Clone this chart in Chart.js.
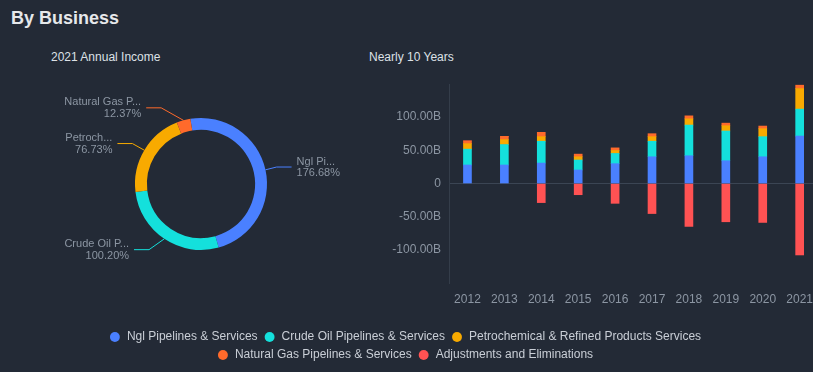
<!DOCTYPE html>
<html>
<head>
<meta charset="utf-8">
<script src="https://cdn.jsdelivr.net/npm/chart.js@4.4.1/dist/chart.umd.min.js"></script>
<style>
  body { margin: 0; background: #232a36; font-family: "Liberation Sans", Arial, sans-serif; }
  #wrap { position: relative; width: 813px; height: 372px; overflow: hidden; }
  .title { position: absolute; left: 11px; top: 8px; line-height: 20px; font-size: 18px; font-weight: bold; color: #e6e8eb; }
  .sub { position: absolute; top: 50px; line-height: 14px; font-size: 12px; color: #dde1e6; }
  canvas { position: absolute; }
</style>
</head>
<body>
<div id="wrap">
  <div class="title">By Business</div>
  <div class="sub" style="left:51px">2021 Annual Income</div>
  <div class="sub" style="left:369px">Nearly 10 Years</div>
  <canvas id="barChart" width="822" height="372" style="left:0;top:0"></canvas>
  <canvas id="pieChart" width="400" height="240" style="left:1px;top:64px"></canvas>
  <canvas id="legendChart" width="620" height="120" style="left:95px;top:325px"></canvas>
</div>
<script>
// data (billions)
const years = ['2012', '2013', '2014', '2015', '2016', '2017', '2018', '2019', '2020', '2021'];
const seriesNames = [
    'Ngl Pipelines & Services',
    'Crude Oil Pipelines & Services',
    'Petrochemical & Refined Products Services',
    'Natural Gas Pipelines & Services',
    'Adjustments and Eliminations'
];
const ngl = [27.9, 27.9, 30.8, 20.4, 29.9, 40.3, 41.8, 34.3, 40.3, 71.5554];
const crude = [23.9, 30.8, 32.9, 15.0, 15.4, 23.4, 46.3, 44.8, 30.3, 40.581];
const petro = [8.3, 7.5, 6.9, 4.9, 4.5, 6.9, 9.4, 8.0, 12.0, 31.0757];
const natGas = [4.1, 4.9, 6.5, 4.0, 3.9, 4.5, 4.5, 3.9, 4.0, 5.0099];
const adjustments = [0, 0, -28.8, -16.9, -29.9, -45.3, -64.7, -57.7, -58.7, -107.722];
const yTicks = [-100, -50, 0, 50, 100];

const seriesData = [ngl, crude, petro, natGas, adjustments];
const colors = ['#4a80ff', '#14e0dc', '#f8aa00', '#ff6a2b', '#ff5253'];

Chart.defaults.font.family = '"Liberation Sans", Arial, sans-serif';

// bar chart (canvas runs a little past the right edge, as in the original)
new Chart(document.getElementById('barChart'), {
    type: 'bar',
    data: {
        labels: years,
        datasets: seriesNames.map((name, i) => ({
            label: name,
            data: seriesData[i],
            backgroundColor: colors[i],
            borderWidth: 0,
            barThickness: 8,
            stack: 'total'
        }))
    },
    options: {
        responsive: false,
        animation: false,
        layout: { padding: { left: 0, right: 0, top: 84, bottom: 49 } },
        scales: {
            x: {
                stacked: true,
                grid: { display: false, drawTicks: false },
                border: { display: false },
                ticks: { color: '#8c96a3', font: { size: 12 }, padding: 9, maxRotation: 0, autoSkip: false },
                afterFit(scale) { scale.height = 40; }
            },
            y: {
                stacked: true,
                min: -150,
                max: 150,
                afterBuildTicks(scale) { scale.ticks = yTicks.map(v => ({ value: v })); },
                afterFit(scale) { scale.width = 449; },
                grid: {
                    drawTicks: false,
                    color: c => (c.tick && c.tick.value === 0) ? '#3b4554' : 'rgba(0,0,0,0)'
                },
                border: { color: '#343d4a' },
                ticks: {
                    color: '#8c96a3',
                    font: { size: 12 },
                    padding: 8,
                    callback: v => v === 0 ? '0' : v.toFixed(2) + 'B'
                }
            }
        },
        plugins: { legend: { display: false }, tooltip: { enabled: false } }
    }
});

// shared legend, centred under both charts
new Chart(document.getElementById('legendChart'), {
    type: 'bar',
    data: {
        labels: [],
        datasets: seriesNames.map((name, i) => ({ label: name, data: [], backgroundColor: colors[i], borderWidth: 0 }))
    },
    options: {
        responsive: false,
        animation: false,
        layout: { padding: 0 },
        scales: { x: { display: false }, y: { display: false } },
        plugins: {
            legend: {
                position: 'top',
                labels: {
                    usePointStyle: true,
                    pointStyle: 'circle',
                    boxHeight: 7,
                    padding: 6,
                    color: '#c9ced6',
                    font: { size: 12 }
                }
            },
            tooltip: { enabled: false }
        }
    }
});

// doughnut: last year, positive segments only, percent of net total
const last = years.length - 1;
const pieValues = [ngl[last], crude[last], petro[last], natGas[last]];
const netTotal = seriesData.reduce((s, arr) => s + arr[last], 0);

function fitText(ctx, text, limit) {
    if (ctx.measureText(text).width <= limit) return text;
    let s = text;
    while (s.length > 1 && ctx.measureText(s + '...').width > limit) s = s.slice(0, -1);
    return s + '...';
}

const pieLabels = {
    id: 'pieLabels',
    afterDatasetsDraw(chart) {
        const ctx = chart.ctx;
        const items = chart.getDatasetMeta(0).data.map((arc, i) => {
            const p = arc.getProps(['x', 'y', 'startAngle', 'endAngle', 'outerRadius'], true);
            const mid = (p.startAngle + p.endAngle) / 2;
            const cos = Math.cos(mid), sin = Math.sin(mid);
            return { i, p, cos, sin, right: cos >= 0, y: p.y + (p.outerRadius + 13) * sin };
        });
        // keep labels on one side apart
        [true, false].forEach(side => {
            const group = items.filter(it => it.right === side).sort((a, b) => a.y - b.y);
            for (let k = 1; k < group.length; k++) {
                if (group[k].y - group[k - 1].y < 28) group[k].y = group[k - 1].y + 28;
            }
        });
        ctx.save();
        ctx.font = '11px "Liberation Sans", Arial, sans-serif';
        ctx.textBaseline = 'middle';
        items.forEach(it => {
            const p = it.p;
            const dir = it.right ? 1 : -1;
            const rA = p.outerRadius + 11, rB = p.outerRadius + 23;
            const dy = it.y - p.y;
            const ex = p.x + dir * rA * Math.sqrt(Math.max(0, 1 - dy * dy / (rB * rB)));
            const ax = p.x + p.outerRadius * it.cos, ay = p.y + p.outerRadius * it.sin;
            const hx = ex + dir * 15;
            ctx.strokeStyle = colors[it.i];
            ctx.lineWidth = 1;
            ctx.beginPath();
            ctx.moveTo(ax, ay);
            ctx.lineTo(ex, it.y);
            ctx.lineTo(hx, it.y);
            ctx.stroke();
            const tx = hx + dir * 5;
            const limit = it.right ? (p.x + 138 - tx) : (tx - (p.x - 140));
            ctx.fillStyle = '#8c96a3';
            ctx.textAlign = it.right ? 'left' : 'right';
            ctx.fillText(fitText(ctx, seriesNames[it.i], limit), tx, it.y - 5.5);
            ctx.fillText((pieValues[it.i] / netTotal * 100).toFixed(2) + '%', tx, it.y + 6);
        });
        ctx.restore();
    }
};

new Chart(document.getElementById('pieChart'), {
    type: 'doughnut',
    data: {
        labels: seriesNames.slice(0, 4),
        datasets: [{
            data: pieValues,
            backgroundColor: colors.slice(0, 4),
            borderWidth: 0
        }]
    },
    options: {
        responsive: false,
        animation: false,
        radius: 66,
        cutout: '82%',
        rotation: -9.3,
        layout: { padding: 0 },
        plugins: { legend: { display: false }, tooltip: { enabled: false } }
    },
    plugins: [pieLabels]
});
</script>
</body>
</html>
